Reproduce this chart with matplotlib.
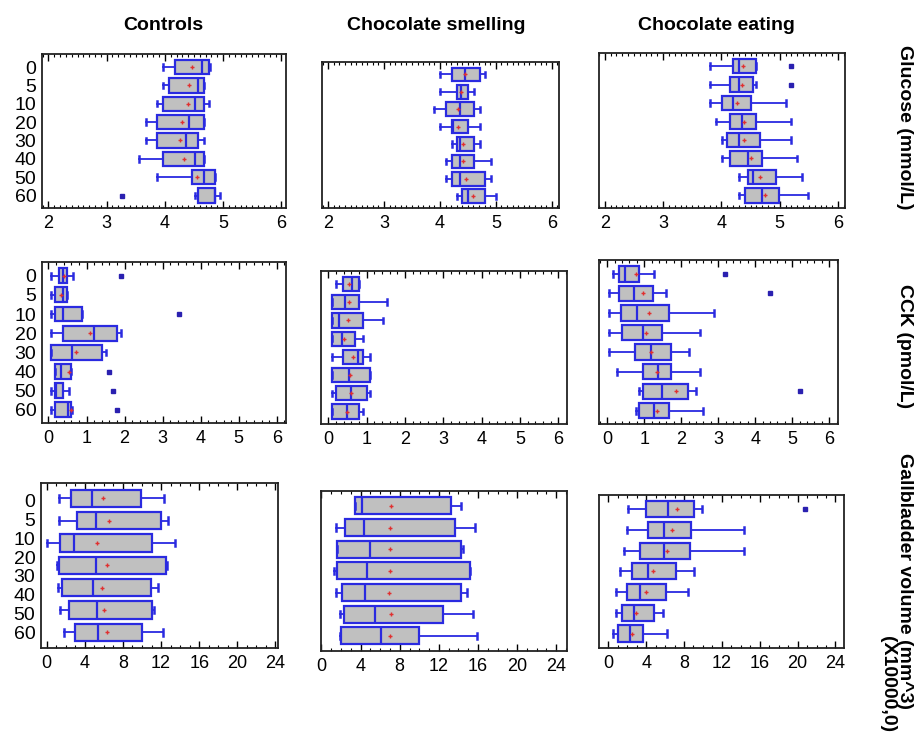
import numpy as np
import matplotlib
matplotlib.use("Agg")
import matplotlib.pyplot as plt
from matplotlib.ticker import MultipleLocator

plt.rcParams['font.family'] = ['Liberation Sans', 'DejaVu Sans']

# ---------------- data ----------------
col_titles = ["Controls", "Chocolate smelling", "Chocolate eating"]
row_labels = ["Glucose (mmol/L)", "CCK (pmol/L)", "Gallbladder volume (mm^3)"]
row_label_extra = "(X10000,0)"
time_labels = ["0", "5", "10", "20", "30", "40", "50", "60"]

# each row: [whisker low, Q1, median, Q3, whisker high, mean]  (None = mean not shown)
glu_ctrl = [[3.97, 4.17, 4.63, 4.76, 4.78, 4.47],
            [3.97, 4.07, 4.57, 4.67, 4.67, 4.42],
            [3.87, 3.97, 4.51, 4.67, 4.76, 4.39],
            [3.67, 3.87, 4.42, 4.67, 4.67, 4.29],
            [3.67, 3.87, 4.36, 4.57, 4.67, 4.26],
            [3.56, 3.97, 4.51, 4.67, 4.67, 4.33],
            [3.87, 4.46, 4.67, 4.86, 4.86, 4.55],
            [4.51, 4.57, 4.86, 4.86, 4.94, None]]
glu_ctrl_out = [[], [], [], [], [], [], [], [3.27]]

glu_smell = [[4.00, 4.21, 4.45, 4.72, 4.81, 4.44],
             [4.00, 4.30, 4.38, 4.50, 4.61, 4.38],
             [3.90, 4.10, 4.35, 4.61, 4.72, 4.33],
             [4.00, 4.21, 4.23, 4.51, 4.72, 4.32],
             [4.21, 4.30, 4.36, 4.61, 4.72, 4.42],
             [4.10, 4.21, 4.36, 4.61, 4.91, 4.42],
             [4.10, 4.21, 4.36, 4.81, 4.91, 4.46],
             [4.30, 4.40, 4.50, 4.81, 5.00, 4.59]]
glu_smell_out = [[], [], [], [], [], [], [], []]

glu_eat = [[3.80, 4.20, 4.30, 4.60, 4.60, 4.37],
           [3.80, 4.15, 4.30, 4.54, 4.60, 4.35],
           [3.80, 4.01, 4.20, 4.50, 5.10, 4.27],
           [3.90, 4.15, 4.35, 4.60, 5.19, 4.39],
           [4.01, 4.10, 4.30, 4.66, 5.19, 4.39],
           [4.01, 4.15, 4.46, 4.70, 5.30, 4.50],
           [4.30, 4.45, 4.54, 4.94, 5.39, 4.67],
           [4.30, 4.40, 4.70, 4.99, 5.49, 4.75]]
glu_eat_out = [[5.19], [5.19], [], [], [], [], [], []]

cck_ctrl = [[0.07, 0.28, 0.38, 0.48, 0.64, 0.40],
            [0.07, 0.18, 0.37, 0.48, 0.48, 0.33],
            [0.07, 0.18, 0.37, 0.89, 0.89, None],
            [0.07, 0.37, 1.20, 1.81, 1.90, 1.10],
            [0.07, 0.07, 0.63, 1.40, 1.52, 0.72],
            [0.18, 0.18, 0.33, 0.59, 0.59, 0.53],
            [0.07, 0.18, 0.20, 0.38, 0.53, None],
            [0.07, 0.18, 0.51, 0.59, 0.61, 0.59]]
cck_ctrl_out = [[1.90], [], [3.42], [], [], [1.59], [1.69], [1.80]]

cck_smell = [[0.20, 0.39, 0.61, 0.80, 0.80, 0.55],
             [0.09, 0.09, 0.43, 0.80, 1.52, 0.55],
             [0.09, 0.09, 0.29, 0.90, 1.42, 0.52],
             [0.09, 0.09, 0.37, 0.71, 0.90, 0.41],
             [0.09, 0.39, 0.77, 0.90, 1.10, 0.65],
             [0.09, 0.09, 0.55, 1.10, 1.10, 0.57],
             [0.09, 0.19, 0.59, 1.00, 1.10, 0.59],
             [0.09, 0.09, 0.50, 0.80, 0.90, 0.48]]
cck_smell_out = [[], [], [], [], [], [], [], []]

cck_eat = [[0.15, 0.32, 0.47, 0.87, 1.28, 0.77],
           [0.06, 0.31, 0.73, 1.23, 1.59, 0.98],
           [0.06, 0.37, 0.82, 1.68, 2.89, 1.12],
           [0.06, 0.41, 0.98, 1.48, 2.50, 1.05],
           [0.06, 0.76, 1.19, 1.73, 2.20, 1.19],
           [0.26, 0.98, 1.37, 1.73, 2.50, 1.36],
           [0.87, 0.98, 1.48, 2.18, 2.40, 1.86],
           [0.78, 0.87, 1.27, 1.68, 2.60, 1.34]]
cck_eat_out = [[3.19], [4.41], [], [], [], [], [5.22], []]

gb_ctrl = [[1.33, 2.55, 4.72, 9.86, 12.30, 5.87],
           [1.33, 3.22, 5.14, 11.96, 12.76, 6.57],
           [0.07, 1.40, 2.87, 11.00, 13.46, 5.31],
           [1.12, 1.33, 5.14, 12.48, 12.60, 6.29],
           [1.22, 1.57, 4.90, 10.90, 11.71, 5.84],
           [1.40, 2.34, 5.24, 11.01, 11.26, 6.01],
           [1.85, 2.97, 5.35, 10.03, 12.17, 6.29]]
gb_ctrl_out = [[], [], [], [], [], [], []]

gb_smell = [[3.40, 3.40, 4.15, 13.27, 14.29, 7.14],
            [1.53, 2.38, 4.35, 13.67, 15.65, 6.97],
            [1.60, 1.60, 4.93, 14.29, 14.46, 6.97],
            [1.29, 1.60, 4.66, 15.14, 15.20, 7.04],
            [1.46, 2.14, 4.42, 14.29, 14.90, 6.90],
            [1.94, 2.28, 5.44, 12.41, 15.48, 7.14],
            [1.94, 2.04, 6.12, 9.97, 15.88, 7.04]]
gb_smell_out = [[], [], [], [], [], [], []]

gb_eat = [[2.11, 3.98, 6.34, 9.08, 9.86, 7.29],
          [1.94, 4.23, 5.88, 8.73, 14.37, 6.69],
          [1.65, 3.35, 5.88, 8.63, 14.37, 6.23],
          [1.23, 2.54, 4.23, 7.15, 9.05, 4.68],
          [0.77, 1.94, 3.35, 6.09, 8.38, 3.98],
          [0.77, 1.48, 2.75, 4.82, 5.81, 2.92],
          [0.53, 1.06, 2.29, 3.70, 6.23, 2.46]]
gb_eat_out = [[20.77], [], [], [], [], [], []]

panels = [[(glu_ctrl, glu_ctrl_out), (glu_smell, glu_smell_out), (glu_eat, glu_eat_out)],
          [(cck_ctrl, cck_ctrl_out), (cck_smell, cck_smell_out), (cck_eat, cck_eat_out)],
          [(gb_ctrl, gb_ctrl_out), (gb_smell, gb_smell_out), (gb_eat, gb_eat_out)]]

# ---------------- layout ----------------
W, H = 917, 734
fig = plt.figure(figsize=(W / 100, H / 100), dpi=100)

# pixel boxes (left, right, top, bottom)
pix = [[(42, 286, 54, 208), (322, 559, 62, 208), (599, 845, 53, 208)],
       [(42, 286, 262, 423), (321, 567, 271, 424), (599, 838, 260, 424)],
       [(41, 278, 483, 648), (321, 567, 491, 651), (599, 844, 495, 648)]]
xlims = [[(1.89, 6.08), (1.89, 6.13), (1.90, 6.12)],
         [(-0.17, 6.24), (-0.19, 6.23), (-0.22, 6.24)],
         [(-0.6, 24.27), (-0.05, 25.1), (-0.98, 24.9)]]
major = [1, 1, 4]
minor = [0.1, 0.2, 1]

box_face = '#c0c0c0'
box_edge = '#2a2ae0'

for r in range(3):
    for c in range(3):
        l, rr, t, b = pix[r][c]
        ax = fig.add_axes([l / W, 1 - b / H, (rr - l) / W, (b - t) / H])
        rows, outs = panels[r][c]
        n = len(rows)
        stats = []
        for i, row in enumerate(rows):
            stats.append(dict(whislo=row[0], q1=row[1], med=row[2], q3=row[3],
                              whishi=row[4], fliers=np.array(outs[i], dtype=float)))
        pos = np.arange(n)
        ax.bxp(stats, positions=pos, orientation='horizontal', widths=0.78,
               patch_artist=True, showfliers=True, capwidths=0.3,
               boxprops=dict(facecolor=box_face, edgecolor=box_edge, linewidth=1.6),
               medianprops=dict(color=box_edge, linewidth=1.6),
               whiskerprops=dict(color=box_edge, linewidth=1.3),
               capprops=dict(color=box_edge, linewidth=1.8),
               flierprops=dict(marker='s', markersize=3.5, markerfacecolor='#2a20b0',
                               markeredgecolor='#2a20b0', linestyle='none'))
        means = np.array([np.nan if row[5] is None else row[5] for row in rows])
        ax.plot(means, pos, linestyle='none', marker='+', markersize=3.5,
                markeredgewidth=1.0, color='#e03030', zorder=5)

        if n == 8:
            ax.set_ylim(7.68, -0.71)
        else:
            ax.set_ylim(6.7, -0.69)
        ax.set_xlim(*xlims[r][c])
        ax.xaxis.set_major_locator(MultipleLocator(major[r]))
        ax.xaxis.set_minor_locator(MultipleLocator(minor[r]))
        ax.tick_params(axis='x', which='both', direction='in', top=True, bottom=True,
                       labelsize=13, pad=5, colors='black')
        ax.tick_params(axis='x', which='major', length=5, width=1.0)
        ax.tick_params(axis='x', which='minor', length=2.5, width=0.8)
        ax.tick_params(axis='y', which='both', left=False, right=False, length=0,
                       labelsize=14, pad=4)
        if c == 0:
            if n == 8:
                ax.set_yticks(pos)
            else:
                ax.set_yticks(np.linspace(0.1, 6.0, len(time_labels)))
            ax.set_yticklabels(time_labels)
        else:
            ax.set_yticks([])
        for s in ax.spines.values():
            s.set_linewidth(1.3)
            s.set_color('#222222')

# column titles
for cx, t in zip([163, 436, 716], col_titles):
    fig.text(cx / W, 1 - 25 / H, t, ha='center', va='center', fontsize=14,
             fontweight='bold')

# row labels on the right
fig.text(905 / W, 1 - 127 / H, row_labels[0], rotation=270, ha='center', va='center',
         fontsize=14, fontweight='bold')
fig.text(905 / W, 1 - 346 / H, row_labels[1], rotation=270, ha='center', va='center',
         fontsize=14, fontweight='bold')
fig.text(905 / W, 1 - 453 / H, row_labels[2], rotation=270, ha='center', va='top',
         fontsize=14, fontweight='bold')
fig.text(888 / W, 1 - 636 / H, row_label_extra, rotation=270, ha='center', va='top',
         fontsize=14, fontweight='bold')

fig.savefig("out.png", dpi=100)
